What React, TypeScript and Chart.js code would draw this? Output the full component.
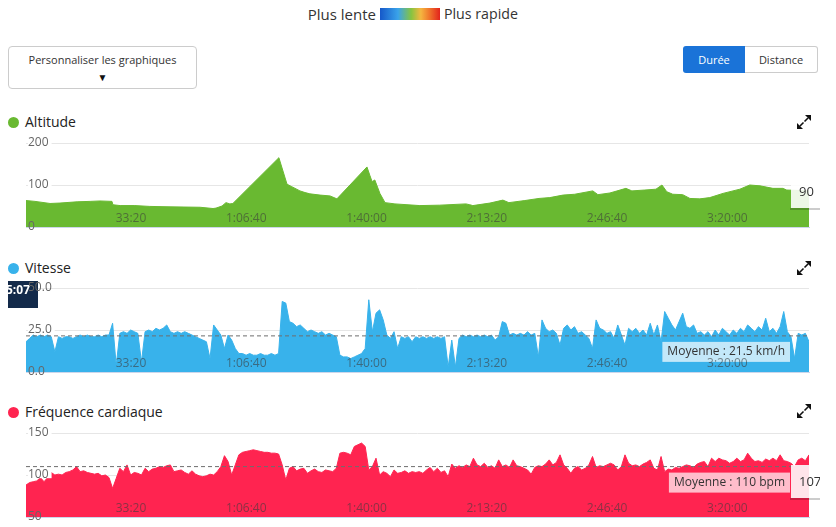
import { useEffect, useRef } from 'react';
import { Chart, registerables } from 'chart.js';

Chart.register(...registerables);
Chart.defaults.font.family = '"Open Sans", sans-serif';

// ---------- data ----------
const DURATION = 13020; // seconds
const X_TICKS = [2000, 4000, 6000, 8000, 10000, 12000];

const ALT_T = [0, 150, 400, 565, 850, 1065, 1230, 1430, 1445, 1565, 1810, 2060, 2395, 2895, 3110, 3160, 3260, 3325, 3390, 3440, 4205, 4340, 4420, 4555, 4640, 4720, 4890, 5055, 5170, 5670, 5720, 5755, 5800, 5885, 5970, 6135, 6550, 6880, 7315, 7380, 7430, 7715, 7930, 8030, 8295, 8530, 8710, 8930, 9125, 9425, 9510, 9710, 9975, 10075, 10290, 10475, 10575, 10655, 10755, 10920, 11040, 11205, 11370, 11590, 11870, 12035, 12205, 12420, 12585, 12650, 12870, 13020];
const ALT_V = [63, 61, 56, 57, 60, 61, 62, 61, 53, 51, 51, 49, 48, 47, 44, 45, 50, 58, 55, 56, 165, 102, 96, 86, 82, 79, 76, 74, 67, 143, 122, 108, 112, 80, 58, 55, 51, 52, 55, 53, 51, 57, 64, 58, 63, 68, 70, 76, 78, 86, 77, 81, 92, 86, 88, 90, 100, 84, 78, 77, 68, 67, 70, 80, 90, 100, 98, 92, 92, 88, 87, 86];

const SAMPLE_STEP = 60; // seconds between speed / heart-rate samples
const SPEED_V = [
  18, 20, 22, 21, 22, 21, 22, 21, 12, 21,
  20, 21, 21, 20, 21, 22, 21, 22, 21, 21,
  22, 21, 22, 22, 29, 4, 23, 24, 23, 25,
  24, 23, 6, 24, 25, 24, 26, 25, 26, 28,
  24, 23, 24, 23, 24, 23, 22, 21, 20, 19,
  18, 8, 28, 25, 22, 14, 22, 19, 14, 11,
  11, 10, 11, 10, 10, 11, 10, 10, 11, 10,
  11, 42, 41, 30, 29, 27, 28, 26, 24, 25,
  24, 23, 24, 22, 23, 22, 21, 10, 9, 9,
  8, 9, 10, 11, 14, 43, 24, 35, 37, 31,
  22, 20, 24, 14, 21, 20, 21, 18, 21, 20,
  21, 20, 21, 20, 21, 20, 21, 3, 19, 3,
  20, 22, 21, 22, 21, 22, 21, 22, 21, 22,
  19, 21, 30, 29, 22, 23, 22, 23, 22, 24,
  22, 23, 9, 31, 26, 24, 25, 23, 16, 26,
  28, 25, 27, 23, 24, 22, 20, 14, 31, 26,
  25, 23, 24, 20, 28, 22, 16, 26, 24, 26,
  23, 25, 22, 29, 22, 28, 18, 36, 32, 28,
  25, 30, 35, 27, 26, 28, 23, 24, 22, 24,
  21, 25, 22, 26, 24, 22, 25, 23, 26, 24,
  28, 26, 24, 27, 25, 32, 24, 26, 23, 27,
  36, 24, 21, 8, 23, 22, 23, 18,
];
const HR_V = [
  88, 91, 92, 93, 97, 92, 97, 103, 100, 101,
  100, 103, 104, 106, 110, 104, 105, 103, 102, 101,
  102, 99, 100, 97, 84, 96, 108, 104, 112, 100,
  103, 102, 100, 108, 104, 107, 108, 110, 109, 111,
  112, 104, 105, 106, 103, 101, 105, 101, 99, 98,
  99, 101, 100, 104, 110, 123, 116, 100, 112, 124,
  127, 128, 129, 130, 129, 128, 127, 127, 126, 126,
  125, 112, 94, 108, 110, 105, 107, 108, 102, 105,
  107, 104, 103, 106, 105, 104, 108, 126, 127, 126,
  124, 134, 136, 138, 134, 106, 110, 120, 100, 104,
  102, 98, 106, 102, 103, 105, 102, 104, 103, 104,
  102, 106, 109, 104, 108, 103, 105, 98, 113, 108,
  111, 109, 112, 110, 120, 112, 110, 114, 109, 111,
  108, 118, 110, 112, 109, 118, 111, 110, 108, 106,
  101, 109, 111, 110, 113, 118, 112, 115, 124, 112,
  108, 102, 108, 110, 106, 108, 112, 122, 109, 111,
  110, 112, 114, 112, 106, 110, 124, 114, 111, 112,
  110, 113, 115, 118, 108, 106, 122, 104, 107, 106,
  109, 108, 110, 112, 111, 109, 113, 115, 116, 110,
  120, 116, 120, 118, 117, 114, 116, 120, 116, 118,
  126, 120, 116, 117, 115, 119, 117, 120, 117, 124,
  117, 116, 114, 110, 118, 120, 117, 124,
];

const SPEED_AVG = 21.5;
const HR_AVG = 110;
const SPEED_AVG_LABEL = 'Moyenne : 21.5 km/h';
const HR_AVG_LABEL = 'Moyenne : 110 bpm';
const ALT_CURSOR_LABEL = '90';
const HR_CURSOR_LABEL = '107';
const SPEED_TIME_LABEL = '5:07';

const COLOR_ALT = '#69b931';
const COLOR_SPEED = '#38b2eb';
const COLOR_HR = '#ff2450';

// ---------- helpers ----------
const pad2 = (n: number) => String(n).padStart(2, '0');
function fmtTime(v: number) {
  if (v <= 0) return '';
  const h = Math.floor(v / 3600);
  const m = Math.floor((v % 3600) / 60);
  const s = Math.round(v % 60);
  return h > 0 ? `${h}:${pad2(m)}:${pad2(s)}` : `${m}:${pad2(s)}`;
}

const CW = 820;
const CH = 102;

function drawAvgLabel(chart: any, avg: number, text: string) {
  const { ctx, chartArea, scales } = chart;
  const y = scales.y.getPixelForValue(avg);
  ctx.save();
  ctx.font = '12px "Open Sans", sans-serif';
  const tw = ctx.measureText(text).width;
  const w = tw + 10;
  const h = 20;
  const x = chartArea.right - 19 - w;
  ctx.fillStyle = 'rgba(255,255,255,0.7)';
  ctx.fillRect(x, y + 6, w, h);
  ctx.fillStyle = '#333';
  ctx.textBaseline = 'middle';
  ctx.textAlign = 'left';
  ctx.fillText(text, x + 5, y + 6 + h / 2);
  ctx.restore();
}

function drawValueBox(chart: any, text: string) {
  const { ctx } = chart;
  ctx.save();
  ctx.beginPath();
  ctx.rect(0, 0, 812, chart.height);
  ctx.clip();
  ctx.fillStyle = 'rgba(0,0,0,0.2)';
  ctx.fillRect(782, 77, 32, 2);
  ctx.fillStyle = 'rgba(255,255,255,0.88)';
  ctx.fillRect(783, 44, 31, 33);
  ctx.fillStyle = '#333';
  ctx.font = '13px "Open Sans", sans-serif';
  ctx.textBaseline = 'middle';
  ctx.textAlign = 'left';
  ctx.fillText(text, 791, 61);
  ctx.restore();
}

function drawTimeBox(chart: any, text: string) {
  const { ctx } = chart;
  ctx.save();
  ctx.fillStyle = '#132a4a';
  ctx.fillRect(0, 5, 30, 27);
  ctx.fillStyle = '#fff';
  ctx.font = 'bold 12px "Open Sans", sans-serif';
  ctx.textBaseline = 'middle';
  ctx.textAlign = 'right';
  ctx.fillText(text, 22, 15);
  ctx.restore();
}

type PanelProps = {
  top: number;
  points: { x: number; y: number }[];
  color: string;
  yMin: number;
  yMax: number;
  yStep: number;
  yFmt: (v: number) => string;
  avg?: number;
  decor: 'alt' | 'speed' | 'hr';
};

function Panel({ top, points, color, yMin, yMax, yStep, yFmt, avg, decor }: PanelProps) {
  const ref = useRef<HTMLCanvasElement>(null);
  useEffect(() => {
    const datasets: any[] = [
      {
        data: points,
        borderColor: color,
        backgroundColor: color,
        borderWidth: 1,
        pointRadius: 0,
        fill: 'start',
        tension: 0,
        order: 1,
      },
    ];
    if (avg != null) {
      datasets.push({
        data: [
          { x: 0, y: avg },
          { x: DURATION, y: avg },
        ],
        borderColor: '#6e6e6e',
        borderDash: [4, 3],
        borderWidth: 1,
        pointRadius: 0,
        fill: false,
        order: 0,
      });
    }
    const plugin = {
      id: 'decor',
      afterDatasetsDraw(chart: any) {
        if (decor === 'alt') drawValueBox(chart, ALT_CURSOR_LABEL);
        if (decor === 'speed') {
          drawTimeBox(chart, SPEED_TIME_LABEL);
          drawAvgLabel(chart, SPEED_AVG, SPEED_AVG_LABEL);
        }
        if (decor === 'hr') {
          drawAvgLabel(chart, HR_AVG, HR_AVG_LABEL);
          drawValueBox(chart, HR_CURSOR_LABEL);
        }
      },
    };
    const noBackdrop = (v: number) => v === yMin || (decor === 'speed' && v === yMax);
    const chart = new Chart(ref.current as HTMLCanvasElement, {
      type: 'line',
      data: { datasets },
      options: {
        animation: false,
        responsive: false,
        maintainAspectRatio: false,
        events: [],
        layout: { padding: { left: 18, right: 19, top: 12, bottom: 6 } },
        plugins: { legend: { display: false }, tooltip: { enabled: false } },
        scales: {
          x: {
            type: 'linear',
            min: 0,
            max: DURATION,
            position: 'bottom',
            grid: { display: false, drawTicks: false },
            border: { display: true, color: '#ccd6eb', width: 1, z: 1 },
            afterBuildTicks: (s: any) => {
              s.ticks = X_TICKS.map((v) => ({ value: v }));
            },
            ticks: {
              autoSkip: false,
              maxRotation: 0,
              mirror: true,
              padding: 1,
              align: 'end',
              color: 'rgba(60,60,60,0.6)',
              font: { size: 12 },
              z: 1,
              callback: (v: any) => fmtTime(Number(v)),
            },
            afterFit: (s: any) => {
              s.height = 0;
              s.paddingLeft = 0;
              s.paddingRight = 0;
              s.paddingTop = 0;
              s.paddingBottom = 0;
            },
          },
          y: {
            min: yMin,
            max: yMax,
            position: 'left',
            grid: { color: '#e6e6e6', drawTicks: false },
            border: { display: false },
            ticks: {
              stepSize: yStep,
              mirror: true,
              padding: 2,
              color: '#666',
              font: { size: 12 },
              z: 1,
              showLabelBackdrop: true,
              backdropColor: (c: any) =>
                c.tick && noBackdrop(c.tick.value) ? 'rgba(0,0,0,0)' : '#fff',
              backdropPadding: { left: 0, right: 3, top: -4, bottom: -4 },
              callback: (v: any) => yFmt(Number(v)),
            },
            afterFit: (s: any) => {
              s.width = 0;
              s.paddingLeft = 0;
              s.paddingRight = 0;
              s.paddingTop = 0;
              s.paddingBottom = 0;
            },
          },
        },
      } as any,
      plugins: [plugin],
    });
    return () => chart.destroy();
  }, []);
  return (
    <canvas
      ref={ref}
      width={CW}
      height={CH}
      style={{ position: 'absolute', left: 8, top, width: CW, height: CH }}
    />
  );
}

function ExpandIcon({ top }: { top: number }) {
  return (
    <svg width={14} height={14} viewBox="0 0 14 14" style={{ position: 'absolute', left: 797, top }}>
      <path d="M8 0 H14 V6 Z" fill="#111" />
      <path d="M7.5 6.5 L11 3" stroke="#111" strokeWidth={1.6} />
      <path d="M0 8 V14 H6 Z" fill="#111" />
      <path d="M6.5 7.5 L3 11" stroke="#111" strokeWidth={1.6} />
    </svg>
  );
}

function Title({ y, color, text }: { y: number; color: string; text: string }) {
  return (
    <>
      <div
        style={{
          position: 'absolute',
          left: 8,
          top: y - 5,
          width: 11,
          height: 11,
          borderRadius: '50%',
          background: color,
        }}
      />
      <div
        style={{
          position: 'absolute',
          left: 25,
          top: y - 10,
          fontSize: 14,
          lineHeight: '20px',
          color: '#222',
          whiteSpace: 'nowrap',
        }}
      >
        {text}
      </div>
    </>
  );
}

export default function App() {
  const altPts = ALT_T.map((t, i) => ({ x: t, y: ALT_V[i] }));
  const speedPts = SPEED_V.map((v, i) => ({ x: i * SAMPLE_STEP, y: v }));
  const hrPts = HR_V.map((v, i) => ({ x: i * SAMPLE_STEP, y: v }));
  return (
    <div
      style={{
        position: 'fixed',
        left: 0,
        top: 0,
        width: 836,
        height: 527,
        background: '#fff',
        fontFamily: '"Open Sans", sans-serif',
        color: '#333',
        overflow: 'hidden',
      }}
    >
      {/* speed legend */}
      <div style={{ position: 'absolute', left: 0, width: 376, top: 4, textAlign: 'right', fontSize: 15, lineHeight: '20px', color: '#333' }}>
        Plus lente
      </div>
      <div
        style={{
          position: 'absolute',
          left: 380,
          top: 8,
          width: 60,
          height: 12,
          background: 'linear-gradient(to right, #1558c9 0%, #3aa3ea 30%, #86c440 52%, #f5b640 68%, #f0772c 82%, #e2231c 100%)',
        }}
      />
      <div style={{ position: 'absolute', left: 444, top: 4, fontSize: 14.2, lineHeight: '20px', color: '#333', whiteSpace: 'nowrap' }}>
        Plus rapide
      </div>

      {/* customise button */}
      <div
        style={{
          position: 'absolute',
          left: 8,
          top: 46,
          width: 189,
          height: 43,
          border: '1px solid #ccc',
          borderRadius: 4,
          boxSizing: 'border-box',
        }}
      >
        <div style={{ position: 'absolute', left: 0, right: 0, top: 5, textAlign: 'center', fontSize: 11, lineHeight: '16px', color: '#333', whiteSpace: 'nowrap' }}>
          Personnaliser les graphiques
        </div>
        <div style={{ position: 'absolute', left: 0, right: 0, top: 22, textAlign: 'center', fontSize: 10, lineHeight: '16px', color: '#111' }}>
          ▼
        </div>
      </div>

      {/* toggle */}
      <div
        style={{
          position: 'absolute',
          left: 683,
          top: 46,
          width: 62,
          height: 27,
          background: '#1a73d8',
          borderRadius: '3px 0 0 3px',
          color: '#fff',
          fontSize: 11,
          lineHeight: '27px',
          textAlign: 'center',
        }}
      >
        Durée
      </div>
      <div
        style={{
          position: 'absolute',
          left: 745,
          top: 46,
          width: 73,
          height: 27,
          boxSizing: 'border-box',
          border: '1px solid #ccc',
          borderLeft: 'none',
          borderRadius: '0 3px 3px 0',
          color: '#333',
          fontSize: 11,
          lineHeight: '25px',
          textAlign: 'center',
        }}
      >
        Distance
      </div>

      <Title y={122} color={COLOR_ALT} text="Altitude" />
      <ExpandIcon top={115} />
      <Panel top={131} points={altPts} color={COLOR_ALT} yMin={0} yMax={200} yStep={100} yFmt={(v) => String(v)} decor="alt" />

      <Title y={268} color={COLOR_SPEED} text="Vitesse" />
      <ExpandIcon top={261} />
      <Panel
        top={276}
        points={speedPts}
        color={COLOR_SPEED}
        yMin={0}
        yMax={50}
        yStep={25}
        yFmt={(v) => v.toFixed(1)}
        avg={SPEED_AVG}
        decor="speed"
      />

      <Title y={412} color={COLOR_HR} text="Fréquence cardiaque" />
      <ExpandIcon top={404} />
      <Panel
        top={421}
        points={hrPts}
        color={COLOR_HR}
        yMin={50}
        yMax={150}
        yStep={50}
        yFmt={(v) => String(v)}
        avg={HR_AVG}
        decor="hr"
      />
    </div>
  );
}
